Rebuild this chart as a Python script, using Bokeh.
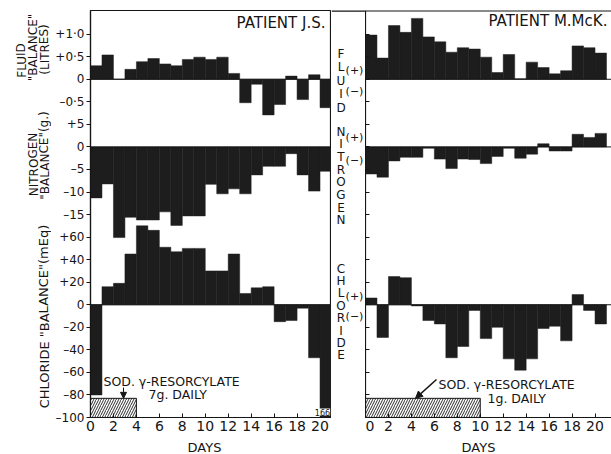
from bokeh.plotting import figure
from bokeh.models import Range1d, FixedTicker, Span, Label, Arrow, NormalHead
from bokeh.layouts import row, column
from bokeh.core.properties import value
from bokeh.embed import file_html
from bokeh.resources import INLINE

# ---------------- data ----------------
days = list(range(21))

js_fluid = [0.30, 0.54, 0.0, 0.22, 0.39, 0.46, 0.34, 0.30, 0.44, 0.49, 0.44,
            0.49, 0.13, -0.52, -0.11, -0.79, -0.56, 0.07, -0.45, 0.10, -0.63]
js_nitrogen = [-11.3, -8.2, -20.1, -15.6, -16.2, -16.2, -14.4, -17.4, -15.3, -15.3, -8.3,
               -10.4, -9.3, -10.4, -6.2, -4.3, -4.3, -1.5, -6.2, -9.8, -5.4]
js_chloride = [-80, 16, 19, 45, 70, 66, 51, 47, 50, 50, 30,
               30, 45, 10, 15, 16, -15, -14, -3, -47, -166]

mm_fluid = [0.98, 0.47, 1.19, 1.04, 1.35, 0.94, 0.83, 0.60, 0.70, 0.67, 0.49,
            0.15, 0.55, 0.01, 0.38, 0.26, 0.12, 0.19, 0.74, 0.70, 0.58]
mm_nitrogen = [-6.0, -6.7, -3.1, -2.3, -2.3, -0.3, -2.7, -4.8, -2.7, -2.8, -3.7,
               -2.1, -0.3, -2.5, -1.6, 0.7, -0.9, -0.9, 2.8, 2.1, 3.0]
mm_chloride = [6, -29, 25, 24, -1, -14, -17, -47, -37, -5, -30,
               -20, -48, -58, -48, -21, -19, -32, 9, -5, -17]

fluid_ticks = [1.0, 0.5, 0.0, -0.5]
fluid_tick_labels = ["+1·0", "+0·5", "0", "–0·5"]
nitrogen_ticks = [5, 0, -5, -10, -15]
nitrogen_tick_labels = ["+5", "0", "–5", "–10", "–15"]
chloride_ticks = [60, 40, 20, 0, -20, -40, -60, -80, -100]
chloride_tick_labels = ["+60", "+40", "+20", "0", "–20", "–40", "–60", "–80", "–100"]
day_ticks = list(range(0, 21, 2))

js_treatment = (0, 4)     # days of sodium gamma-resorcylate, 7 g daily
mm_treatment = (0, 10)    # days of sodium gamma-resorcylate, 1 g daily

# ---------------- scales ----------------
CL_START, CL_END = -100, 261          # chloride (primary) range, mEq
FL_ZERO, FL_SCALE = 200, 40           # fluid 0 L sits at chloride 200; 1 L = 40 units
N_ZERO, N_SCALE = 140, 4              # nitrogen 0 g sits at chloride 140; 1 g = 4 units
fluid_range = ((CL_START - FL_ZERO) / FL_SCALE, (CL_END - FL_ZERO) / FL_SCALE)
nitrogen_range = ((CL_START - N_ZERO) / N_SCALE, (CL_END - N_ZERO) / N_SCALE)
HATCH_TOP = -83

tick_pos = ([int(round(FL_ZERO + FL_SCALE * t)) for t in fluid_ticks]
            + [int(round(N_ZERO + N_SCALE * t)) for t in nitrogen_ticks]
            + chloride_ticks)
tick_text = fluid_tick_labels + nitrogen_tick_labels + chloride_tick_labels
overrides = {pos: lab for pos, lab in zip(tick_pos, tick_text)}

TXT = "#151515"
BAR = "#1d1d1d"
FONT = "DejaVu Sans"
PXDAY = 241.0 / 21.0   # pixels per day
H = 439                # height of the chart row
TOP, BOTTOM = 10, 22   # borders above / below the plot frames (frame rows 10..417)


def base_fig(width, border_left, x_end):
    p = figure(width=width, height=H, x_range=Range1d(0, x_end),
               y_range=Range1d(CL_START, CL_END), output_backend="svg",
               toolbar_location=None, min_border_left=border_left, min_border_right=0,
               min_border_top=TOP, min_border_bottom=BOTTOM)
    p.extra_y_ranges = {"fluid": Range1d(*fluid_range), "nitrogen": Range1d(*nitrogen_range)}
    p.xgrid.visible = False
    p.ygrid.visible = False
    p.background_fill_color = "white"
    p.border_fill_color = "white"
    xa = p.xaxis[0]
    xa.ticker = FixedTicker(ticks=day_ticks)
    xa.major_tick_in = 4
    xa.major_tick_out = 0
    xa.minor_tick_line_color = None
    xa.major_label_text_font = FONT
    xa.major_label_text_font_size = "14px"
    xa.major_label_text_color = TXT
    xa.major_label_standoff = 3
    xa.axis_line_color = TXT
    xa.axis_line_width = 1.2
    xa.major_tick_line_color = TXT
    ya = p.yaxis[0]
    ya.ticker = FixedTicker(ticks=tick_pos)
    ya.minor_tick_line_color = None
    ya.axis_line_color = TXT
    ya.axis_line_width = 1.2
    ya.major_tick_line_color = TXT
    return p


def text_fig(width, height, x_range, y_range):
    p = figure(width=width, height=height, x_range=x_range, y_range=y_range,
               output_backend="svg", toolbar_location=None,
               x_axis_location=None, y_axis_location=None, min_border=0)
    p.min_border_left = p.min_border_right = p.min_border_top = p.min_border_bottom = 0
    p.xgrid.visible = False
    p.ygrid.visible = False
    p.outline_line_color = None
    p.background_fill_color = "white"
    p.border_fill_color = "white"
    return p


def draw_series(p, fluid, nitrogen, chloride):
    x = [d + 0.5 for d in days]
    for vals, rng in ((fluid, "fluid"), (nitrogen, "nitrogen"), (chloride, "default")):
        p.vbar(x=x, width=1, top=vals, bottom=0, fill_color=BAR, line_color=BAR,
               line_width=0.5, y_range_name=rng)
        p.add_layout(Span(location=0, dimension="width", line_color=TXT, line_width=1,
                          y_range_name=rng))


def label(p, x, y, text, size="13px", align="left", **kw):
    p.add_layout(Label(x=x, y=y, text=text, text_font=FONT, text_font_size=size,
                       text_color=TXT, text_align=align, text_baseline="middle", **kw))


def ref_y(y):
    """chloride-axis value of a pixel row of the frame (frame spans rows 10..417)"""
    return CL_START + (417 - y) * (CL_END - CL_START) / 407.0


# ---------------- left panel: patient J.S. ----------------
pa = base_fig(280, 39, 21)
pa.outline_line_color = TXT
pa.outline_line_alpha = 1
pa.outline_line_width = 1.2
ya = pa.yaxis[0]
ya.major_label_overrides = overrides
ya.major_tick_in = 0
ya.major_tick_out = 4
ya.major_label_standoff = 2
ya.major_label_text_font = FONT
ya.major_label_text_font_size = "12px"
ya.major_label_text_color = TXT

draw_series(pa, js_fluid, js_nitrogen, js_chloride)
pa.quad(left=[js_treatment[0]], right=[js_treatment[1]], bottom=[CL_START], top=[HATCH_TOP],
        fill_color="white", hatch_pattern="/", hatch_scale=5, hatch_weight=0.9,
        hatch_color=TXT, line_color=TXT, line_width=1)

label(pa, (325 - 90) / PXDAY, ref_y(22.5), "PATIENT J.S.", size="15px", align="right")
label(pa, (103 - 90) / PXDAY, ref_y(381), "SOD. γ-RESORCYLATE", size="12.5px")
label(pa, (148 - 90) / PXDAY, ref_y(394), "7g. DAILY", size="12.5px")
pa.add_layout(Arrow(end=NormalHead(size=6, fill_color=TXT, line_color=TXT),
                    x_start=(123 - 90) / PXDAY, y_start=ref_y(387),
                    x_end=(123 - 90) / PXDAY, y_end=HATCH_TOP,
                    line_color=TXT, line_width=1))
label(pa, (322 - 90) / PXDAY, ref_y(411.5), "166", size="8px", align="center",
      background_fill_color="white")

# ---------------- right panel: patient M.McK. ----------------
pb = base_fig(246, 0, 246 / PXDAY)
pb.outline_line_color = None
yb = pb.yaxis[0]
yb.major_tick_in = 4
yb.major_tick_out = 0
yb.major_label_overrides = {pos: "" for pos in tick_pos}
yb.major_label_standoff = 0

draw_series(pb, mm_fluid, mm_nitrogen, mm_chloride)
pb.quad(left=[mm_treatment[0]], right=[mm_treatment[1]], bottom=[CL_START], top=[HATCH_TOP],
        fill_color="white", hatch_pattern="/", hatch_scale=5, hatch_weight=0.9,
        hatch_color=TXT, line_color=TXT, line_width=1)
pb.add_layout(Span(location=CL_END, dimension="width", line_color=TXT, line_width=2))

label(pb, (488 - 365) / PXDAY, ref_y(20.5), "PATIENT M.McK.", size="15px")
label(pb, (438 - 365) / PXDAY, ref_y(384), "SOD. γ-RESORCYLATE", size="12.5px")
label(pb, (487 - 365) / PXDAY, ref_y(397.5), "1g. DAILY", size="12.5px")
pb.add_layout(Arrow(end=NormalHead(size=7, fill_color=TXT, line_color=TXT),
                    x_start=(436 - 365) / PXDAY, y_start=ref_y(379),
                    x_end=(415 - 365) / PXDAY, y_end=HATCH_TOP,
                    line_color=TXT, line_width=1.5))

# ---------------- left titles (rotated); frame rows 10..417, y = -pixel row ----------------
pt = text_fig(51, H, Range1d(0, 51), Range1d(-417, -10))
titles = ["FLUID", '"BALANCE"', "(LITRES)", "NITROGEN", '"BALANCE"(g.)',
          'CHLORIDE "BALANCE"(mEq)']
title_x = [21, 32.5, 44, 33, 44, 43.5]
title_y = [60, 47, 49, 164, 155, 316]
title_size = ["12px", "12px", "12px", "12px", "12px", "13px"]
for t, tx, ty, ts in zip(titles, title_x, title_y, title_size):
    pt.text(x=[tx], y=[-ty], text=[t], angle=1.5708, text_font=value(FONT),
            text_font_size=ts, text_color=TXT, text_align="center", text_baseline="middle")

# ---------------- middle strip ----------------
ps = text_fig(34, H, Range1d(0, 34), Range1d(-417, -10))
ps.add_layout(Span(location=-10, dimension="width", line_color=TXT, line_width=2.4))


def stack(word, y0, step):
    ps.text(x=[9.5] * len(word), y=[-(y0 + i * step) for i in range(len(word))],
            text=list(word), text_font=value(FONT), text_font_size="12px",
            text_color=TXT, text_align="center", text_baseline="middle")


stack("FLUID", 53, 13.5)
stack("NITROGEN", 131, 12.7)
stack("CHLORIDE", 268, 12.4)
sign_y = [70, 91, 137, 160, 296, 316]
sign_t = ["(+)", "(−)"] * 3
ps.text(x=[23] * 6, y=[-y for y in sign_y], text=sign_t, text_font=value(FONT),
        text_font_size="11px", text_color=TXT, text_align="center", text_baseline="middle")

# ---------------- bottom "DAYS" strip ----------------
pd = text_fig(611, 454 - H, Range1d(0, 611), Range1d(0, 454 - H))
pd.text(x=[204, 478], y=[454 - 447] * 2, text=["DAYS", "DAYS"], text_font=value(FONT),
        text_font_size="13px", text_color=TXT, text_align="center", text_baseline="middle")

layout = column(row(pt, pa, ps, pb), pd)
open("out.html", "w").write(file_html(layout, INLINE))
